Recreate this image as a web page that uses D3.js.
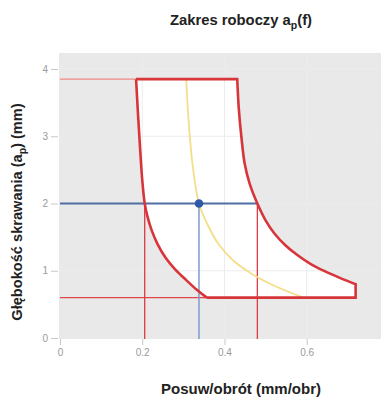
<!DOCTYPE html>
<html><head><meta charset="utf-8">
<script src="https://cdn.jsdelivr.net/npm/d3@7"></script>
<style>
html,body{margin:0;padding:0;background:#fff;}
svg{display:block;font-family:"Liberation Sans",Arial,sans-serif;}
</style></head>
<body><svg id="c" width="381" height="405"></svg>
<script>
// ---- data (feed f in mm/obr, depth ap in mm) ----
const xTicks = [0, 0.2, 0.4, 0.6];
const yTicks = [0, 1, 2, 3, 4];
const apMax = 3.85, apMin = 0.6;
// left boundary (min feed), top to bottom
const leftF  = [0.185, 0.19, 0.195, 0.2, 0.206, 0.213, 0.223, 0.237, 0.256, 0.28, 0.307, 0.332, 0.357];
const leftAp = [3.85, 3.3, 2.8, 2.35, 2.0, 1.8, 1.6, 1.4, 1.2, 1.02, 0.86, 0.72, 0.6];
// right boundary (max feed), top to bottom
const rightF  = [0.431, 0.435, 0.441, 0.449, 0.461, 0.48, 0.5, 0.522, 0.548, 0.578, 0.61, 0.645, 0.682, 0.719];
const rightAp = [3.85, 3.4, 3.0, 2.6, 2.3, 2.0, 1.75, 1.55, 1.38, 1.23, 1.1, 0.99, 0.89, 0.80];
const rightEndF = 0.719;
// recommended curve (yellow)
const recF  = [0.307, 0.312, 0.322, 0.338, 0.357, 0.385, 0.42, 0.465, 0.52, 0.592];
const recAp = [3.85, 3.3, 2.6, 2.0, 1.71, 1.4, 1.16, 0.96, 0.78, 0.6];
// working point
const ptF = 0.338, ptAp = 2.0;
const limitAtPt = [0.206, 0.48]; // min / max feed at ap = 2

const svg = d3.select("#c");
const x = d3.scaleLinear().domain([0, 0.6]).range([60, 306.7]);
const y = d3.scaleLinear().domain([0, 4]).range([338, 69]);

// background
svg.append("rect").attr("x", 59).attr("y", 53).attr("width", 322).attr("height", 286).attr("fill", "#e9e9e9");

// region fill
const zip = (a, b) => a.map((v, i) => [v, b[i]]);
const Lc = d3.line().x(d => x(d[0])).y(d => y(d[1])).curve(d3.curveCatmullRom.alpha(0.5));
const leftPts = zip(leftF, leftAp);
const rightPts = zip(rightF, rightAp);
const outline = "M" + x(leftF[0]) + "," + y(apMax) + Lc(rightPts).replace(/^M/, "L") +
  "L" + x(rightEndF) + "," + y(apMin) +
  "L" + x(leftF[leftF.length - 1]) + "," + y(apMin) +
  Lc(leftPts.slice().reverse()).replace(/^M/, "L");
svg.append("path").attr("d", outline + "Z").attr("fill", "#fff");

// grid
const g = svg.append("g");
xTicks.filter(t => t > 0).forEach(t => g.append("line").attr("x1", x(t)).attr("x2", x(t)).attr("y1", 53).attr("y2", 339).attr("stroke", "#ececec").attr("stroke-width", 1));
yTicks.filter(t => t > 0).forEach(t => g.append("line").attr("x1", 59).attr("x2", 381).attr("y1", y(t)).attr("y2", y(t)).attr("stroke", "#ececec").attr("stroke-width", 1));

// axes ticks
const ax = svg.append("g").attr("transform", "translate(0,339)")
  .call(d3.axisBottom(x).tickValues(xTicks).tickFormat(d3.format("")).tickSize(6).tickPadding(4));
const ay = svg.append("g").attr("transform", "translate(58,0)")
  .call(d3.axisLeft(y).tickValues(yTicks).tickFormat(d3.format("d")).tickSize(7).tickPadding(3));
[ax, ay].forEach(a => {
  a.select(".domain").remove();
  a.selectAll("line").attr("stroke", "#c8c8c8");
  a.selectAll("text").attr("fill", "#9a9a9a").style("font-size", "10px").style("font-family", "Liberation Sans, Arial, sans-serif");
});

// guide lines
svg.append("line").attr("x1", x(0)).attr("x2", x(leftF[0])).attr("y1", y(apMax)).attr("y2", y(apMax)).attr("stroke", "#ec8a80").attr("stroke-width", 1.3);
svg.append("line").attr("x1", x(0)).attr("x2", x(leftF[leftF.length - 1])).attr("y1", y(apMin)).attr("y2", y(apMin)).attr("stroke", "#e0454c").attr("stroke-width", 1.3);
limitAtPt.forEach(f => svg.append("line").attr("x1", x(f)).attr("x2", x(f)).attr("y1", y(ptAp)).attr("y2", 339).attr("stroke", "#dd3a45").attr("stroke-width", 1.3));

// recommended curve
svg.append("path").attr("d", Lc(zip(recF, recAp))).attr("fill", "none").attr("stroke", "#f3df8a").attr("stroke-width", 1.8);

// blue lines
svg.append("line").attr("x1", x(0)).attr("x2", x(limitAtPt[1])).attr("y1", y(ptAp)).attr("y2", y(ptAp)).attr("stroke", "#4f6fa3").attr("stroke-width", 2);
svg.append("line").attr("x1", x(ptF)).attr("x2", x(ptF)).attr("y1", y(ptAp)).attr("y2", 339).attr("stroke", "#7f9cc8").attr("stroke-width", 1.5);

// boundary outline
svg.append("path").attr("d", outline).attr("fill", "none").attr("stroke", "#d7353a").attr("stroke-width", 2.6).attr("stroke-linejoin", "miter");

// point
svg.append("circle").attr("cx", x(ptF)).attr("cy", y(ptAp)).attr("r", 4.3).attr("fill", "#2f58a6");

// titles
const title = svg.append("text").attr("x", 241).attr("y", 25).attr("text-anchor", "middle")
  .attr("font-weight", "bold").attr("font-size", 14.8).attr("fill", "#222");
title.append("tspan").text("Zakres roboczy a");
title.append("tspan").attr("font-size", 10.5).attr("dy", 3.5).text("p");
title.append("tspan").attr("dy", -3.5).text("(f)");

svg.append("text").attr("x", 241).attr("y", 394).attr("text-anchor", "middle")
  .attr("font-weight", "bold").attr("font-size", 15).attr("fill", "#222").text("Posuw/obrót (mm/obr)");

const yl = svg.append("text").attr("transform", "translate(22,212) rotate(-90)").attr("text-anchor", "middle")
  .attr("font-weight", "bold").attr("font-size", 14.6).attr("fill", "#222");
yl.append("tspan").text("Głębokość skrawania (a");
yl.append("tspan").attr("font-size", 10.5).attr("dy", 3.5).text("p");
yl.append("tspan").attr("dy", -3.5).text(") (mm)");
</script></body></html>
